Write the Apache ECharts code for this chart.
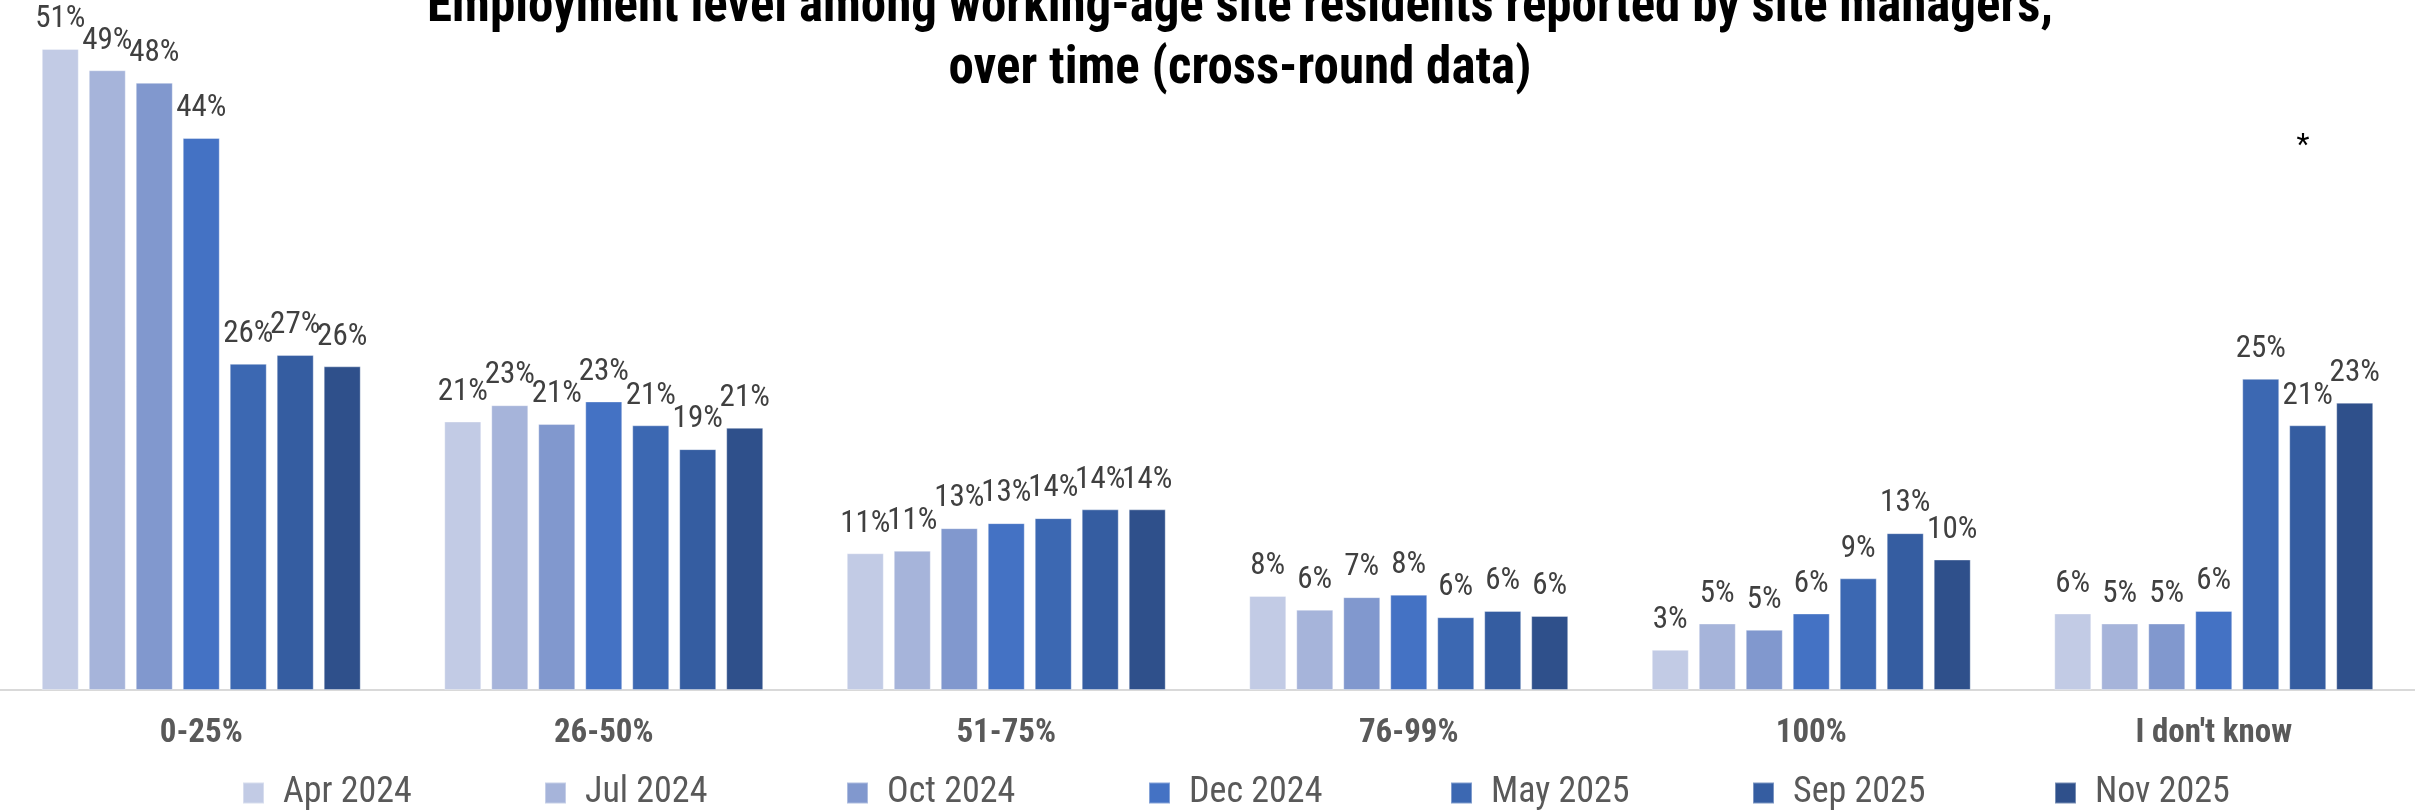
<!DOCTYPE html>
<html>
<head>
<meta charset="utf-8">
<script src="https://cdn.jsdelivr.net/npm/echarts@6/dist/echarts.min.js"></script>
<style>
  html, body { margin: 0; padding: 0; background: #ffffff; }
  #chart { width: 2415px; height: 811px; }
</style>
</head>
<body>
<div id="chart"></div>
<script>
const categories = ['0-25%', '26-50%', '51-75%', '76-99%', '100%', "I don't know"];
const seriesNames = ['Apr 2024', 'Jul 2024', 'Oct 2024', 'Dec 2024', 'May 2025', 'Sep 2025', 'Nov 2025'];
const apr2024 = [51.1, 21.4, 10.9, 7.5, 3.2, 6.1];
const jul2024 = [49.4, 22.7, 11.1, 6.4, 5.3, 5.3];
const oct2024 = [48.4, 21.2, 12.9, 7.4, 4.8, 5.3];
const dec2024 = [44.0, 23.0, 13.3, 7.6, 6.1, 6.3];
const may2025 = [26.0, 21.1, 13.7, 5.8, 8.9, 24.8];
const sep2025 = [26.7, 19.2, 14.4, 6.3, 12.5, 21.1];
const nov2025 = [25.8, 20.9, 14.4, 5.9, 10.4, 22.9];
const seriesValues = [apr2024, jul2024, oct2024, dec2024, may2025, sep2025, nov2025];
const colors = ['#c2cbe5', '#a6b4da', '#8198ce', '#4472c4', '#3c68b2', '#355da1', '#2f508b'];
const titleText = 'Employment level among working-age site residents reported by site managers,\nover time (cross-round data)';

const FONT = "'Roboto Condensed', 'Liberation Sans Narrow', 'DejaVu Sans Condensed', Roboto, sans-serif";

const chart = echarts.init(document.getElementById('chart'), null, { renderer: 'canvas' });

const series = seriesNames.map((name, i) => ({
  name: name,
  type: 'bar',
  data: seriesValues[i],
  barWidth: 37,
  barGap: '27%',
  itemStyle: { color: colors[i], borderColor: 'rgba(255,255,255,0.35)', borderWidth: 1 },
  label: {
    show: true,
    position: 'top',
    distance: 14,
    fontFamily: FONT,
    fontSize: 31,
    color: '#404040',
    formatter: p => Math.round(p.value) + '%'
  }
}));

chart.setOption({
  backgroundColor: '#ffffff',
  color: colors,
  animation: false,
  title: {
    text: titleText,
    left: 1240,
    top: -23,
    textAlign: 'center',
    padding: 0,
    textStyle: { fontFamily: FONT, fontSize: 51, fontWeight: 'bold', color: '#000000', lineHeight: 62 }
  },
  legend: {
    data: seriesNames,
    left: 242,
    top: 775,
    padding: 0,
    icon: 'rect',
    itemWidth: 21,
    itemHeight: 21,
    itemGap: 41,
    textStyle: { fontFamily: FONT, fontSize: 36, color: '#595959', lineHeight: 36, width: 220, padding: [0, 0, 0, 14] }
  },
  grid: { left: 0, right: 0, top: 0, bottom: 121, containLabel: false },
  xAxis: {
    type: 'category',
    data: categories,
    axisTick: { show: false },
    axisLine: { show: true, lineStyle: { color: '#d9d9d9', width: 2 } },
    axisLabel: { margin: 27, fontFamily: FONT, fontSize: 33, fontWeight: 'bold', color: '#595959' }
  },
  yAxis: {
    type: 'value',
    min: 0,
    max: 55,
    show: false,
    splitLine: { show: false }
  },
  graphic: [{
    type: 'text',
    x: 2303,
    y: 146,
    style: { text: '*', fontFamily: FONT, fontSize: 30, fill: '#000000', align: 'center', verticalAlign: 'middle' }
  }],
  series: series
});
</script>
</body>
</html>
